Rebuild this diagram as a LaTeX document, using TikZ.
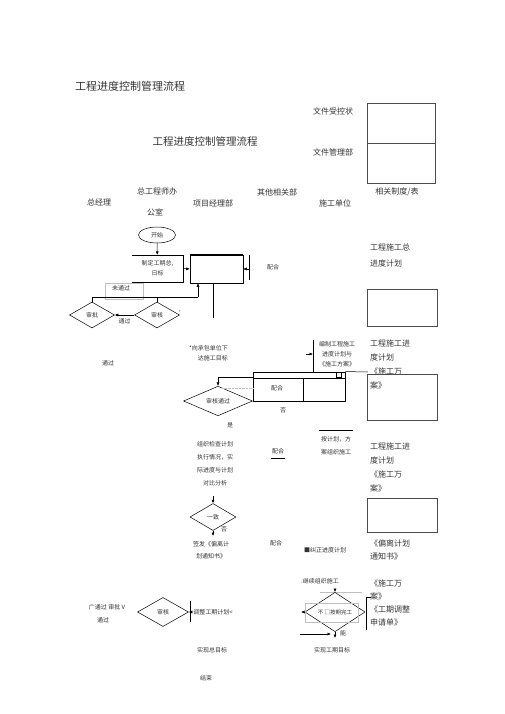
\documentclass[tikz,border=0pt]{standalone}
\usepackage{fontspec}
\setmainfont{Noto Sans CJK SC}
\usepackage{xcolor}
\usetikzlibrary{shapes.geometric,arrows.meta,positioning,calc}

\begin{document}
\begin{tikzpicture}[
        x=1pt, y=-1pt,
        txt/.style={
            inner sep=0pt,
            align=center,
            text=black!80,
            font=\fontsize{6}{10}\selectfont
        },
        midtxt/.style={
            txt,
            font=\fontsize{8}{14}\selectfont
        },
        coltxt/.style={
            txt,
            align=left,
            anchor=west,
            font=\fontsize{8}{14}\selectfont
        },
        colbox/.style={
            draw=black!70,
            line width=0.5pt
        },
        decision/.style={
            diamond,
            draw,
            line width=0.5pt,
            inner sep=0pt,
            text=black!80,
            font=\fontsize{6}{7}\selectfont
        },
        flow/.style={
            draw=black,
            line width=0.5pt
        },
        arr/.style={
            flow,
            -{Latex[length=3.5pt,width=3pt]}
        },
        faint/.style={
            draw=black!25,
            line width=0.4pt
        }
    ]
        \useasboundingbox (0,0) rectangle (505,714);

        % Titles
        \node[txt, font=\fontsize{11}{12}\selectfont] (title) at (130,86) {工程进度控制管理流程};
        \node[txt, font=\fontsize{10.5}{12}\selectfont] (subtitle) at (205,141) {工程进度控制管理流程};
        \node[midtxt] (ctrl) at (333,111) {文件受控状};
        \node[midtxt] (dept) at (333,152) {文件管理部};
        \draw[colbox] (367,103) rectangle (435,143);
        \draw[colbox] (367,143) rectangle (435,183);

        % Column heads
        \node[midtxt] (gm) at (99,202) {总经理};
        \node[midtxt] (eng) at (157,191) {总工程师办};
        \node[midtxt] (eng2) at (155,212) {公室};
        \node[midtxt] (pm) at (213,203) {项目经理部};
        \node[midtxt] (other) at (277,192) {其他相关部};
        \node[midtxt] (sub) at (335,203) {施工单位};
        \node[midtxt] (rule) at (397,192) {相关制度/表};

        % Right column
        \node[coltxt, font=\fontsize{8}{16}\selectfont] (doc1) at (370,255) {工程施工总\\进度计划};
        \draw[colbox] (367,289) rectangle (437,326);
        \node[coltxt] (doc2) at (370,364) {工程施工进\\度计划\\《施工万\\案》};
        \draw[colbox] (367,374) rectangle (437,420);
        \node[coltxt] (doc3) at (370,467) {工程施工进\\度计划\\《施工万\\案》};
        \draw[colbox] (367,498) rectangle (437,532);
        \node[coltxt, font=\fontsize{8}{13}\selectfont] (doc4) at (370,550) {《偏离计划\\通知书》};
        \node[coltxt, font=\fontsize{8}{13.3}\selectfont] (doc5) at (370,603) {《施工万\\案》\\《工期调整\\申请单》};
        \draw[flow] (371,597) -- (366,597) -- (366,630);

        % Start and goals
        \node[ellipse, draw, line width=0.5pt, minimum width=37pt, minimum height=16pt, inner sep=0pt,
              text=black!80, font=\fontsize{6}{7}\selectfont] (start) at (157,235) {开始};
        \node[txt, minimum width=51pt, minimum height=27pt] (goal) at (157.5,268.5) {制定工期总,\\日标};
        \draw[flow] (goal.north west) -- (goal.north east) -- (goal.south east) -- (goal.south west);
        \draw[arr] (start) -- (goal);
        \node[draw, line width=0.5pt, minimum width=53pt, minimum height=28pt, inner sep=0pt] (plan) at (216.5,269) {};
        \draw[line width=1.2pt] (plan.north west) -- (plan.north east);
        \draw[arr] (goal.east) -- (plan.west);
        \coordinate (bar1t) at (249,255);
        \coordinate (bar1b) at (249,280);
        \draw[flow] (bar1t) -- (bar1b);
        \draw[arr] (bar1t |- plan.east) -- (plan.east);
        \node[txt] (coop1) at (273,267) {配合};

        % Review and approval
        \draw[faint] (105,283) rectangle (143,299);
        \node[txt] (fail) at (121,288) {未通过};
        \node[decision, minimum width=45pt, minimum height=26pt] (approve) at (92,315) {审批};
        \node[decision, minimum width=45pt, minimum height=26pt] (check) at (157,315) {审核};
        \draw[arr] (check.west) -- (approve.east) node[txt, midway, below=3pt] (pass1) {通过};
        \node[txt] (tick) at (182,313) {'};
        \coordinate (back) at (198,297);
        \draw[flow] (approve.north) |- (back);
        \draw[flow] (check.north) -- (check.north |- back);
        \draw[arr] (back) -- (back |- plan.south);
        \coordinate (down) at (213,318);
        \draw[flow] (down |- plan.south) -- (down);
        \node[txt] (pass2) at (108,363) {通过};

        % Issue plan
        \node[txt, align=right, anchor=east] (issue) at (228,353) {*向承包单位下\\达施工目标};
        \node[txt] (draft) at (337,354) {编制工程施工\\进度计划与\\《施工方案》};
        \draw[flow] (313,340) -- (313,372);
        \coordinate (drafttip) at (313,354);
        \draw[arr] ($(drafttip)+(-7,0)$) -- (drafttip);

        % Coordination table
        \node[draw, line width=0.9pt, minimum width=92pt, minimum height=29pt, inner sep=0pt] (table) at (299,386.5) {};
        \coordinate (rowl) at (253,378);
        \coordinate (colt) at (303,378);
        \draw[line width=0.9pt] (rowl) -- (rowl -| table.east);
        \draw[line width=0.9pt] (colt) -- (colt |- table.south);
        \draw[flow] (table.north east) -- (368,372);
        \draw[flow, line width=0.4pt] (336,373) -- (336,377) -- (341,377) -- (341,373);
        \node[txt] (coop2) at (277,388) {配合};
        \node[decision, minimum width=69pt, minimum height=22pt] (ok) at (218,401) {审核通过};
        \draw[arr] (rowl |- 0,377) -| (ok.north);
        \draw[faint, densely dotted] (222,388) -- (253,388);
        \node[txt] (no1) at (283,410) {否};
        \node[txt] (yes1) at (230,425) {是};

        % Execution
        \node[txt, font=\fontsize{6}{13}\selectfont] (exec) at (215,463.5) {组织检查计划\\执行情况，实\\际进度与计划\\对比分析};
        \node[txt] (coop3) at (278,451) {配合};
        \draw[flow] ($(coop3.south west)+(-1,4)$) -- ($(coop3.south east)+(1,4)$);
        \draw[flow] (319,430) -- (353,430);
        \node[txt, font=\fontsize{6}{13}\selectfont] (build) at (336,445.5) {按计划，方\\案组织施工};
        \node[decision, minimum width=46pt, minimum height=27pt] (same) at (213,517) {一致};
        \coordinate (samein) at (213,496);
        \coordinate (sameout) at (213,536);
        \draw[arr] (samein) -- (same.north);
        \draw[arr] (same.south) -- (sameout);
        \node[txt] (no2) at (224,529) {否};
        \node[txt, font=\fontsize{6}{12}\selectfont] (notice) at (211,550) {签发《偏离计\\划通知书》};
        \node[txt] (coop4) at (276,543) {配合};
        \node[txt] (fix) at (325,550) {■纠正进度计划};

        % Adjustment
        \node[txt] (pass3) at (107,607) {广通过 审批 V};
        \node[txt] (pass4) at (103,620) {通过};
        \node[decision, minimum width=51pt, minimum height=29pt] (check2) at (163,612) {审核};
        \draw[flow] (190,601) -- (190,622);
        \draw[arr] (190,612) -- (check2.east);
        \node[txt] (adjust) at (213,612) {调整工期计划<};
        \node[txt] (total) at (212,650) {实现总目标};
        \node[txt] (finish) at (206,678) {结束};

        % On-time check
        \node[txt] (cont) at (320,581) {.继续组织施工};
        \draw[faint] (320,592) -- (362,592);
        \node[decision, minimum width=60pt, minimum height=26pt, font=\fontsize{5.5}{7}\selectfont] (ontime) at (335,612) {不 □按期完工};
        \draw[faint] (305,603) rectangle (358,622);
        \draw[arr] (ontime.north |- cont.south) ++(0,5) -- (ontime.north);
        \coordinate (late) at (301,612);
        \draw[arr] (ontime.west) -- (late);
        \coordinate (met) at (335,638);
        \draw[arr] (ontime.south) -- (met);
        \node[txt] (can) at (343,633) {能};
        \coordinate (feed) at (300,634);
        \draw[arr] (feed) -- (331,634);
        \node[txt] (period) at (332,650) {实现工期目标};
    \end{tikzpicture}
\end{document}
